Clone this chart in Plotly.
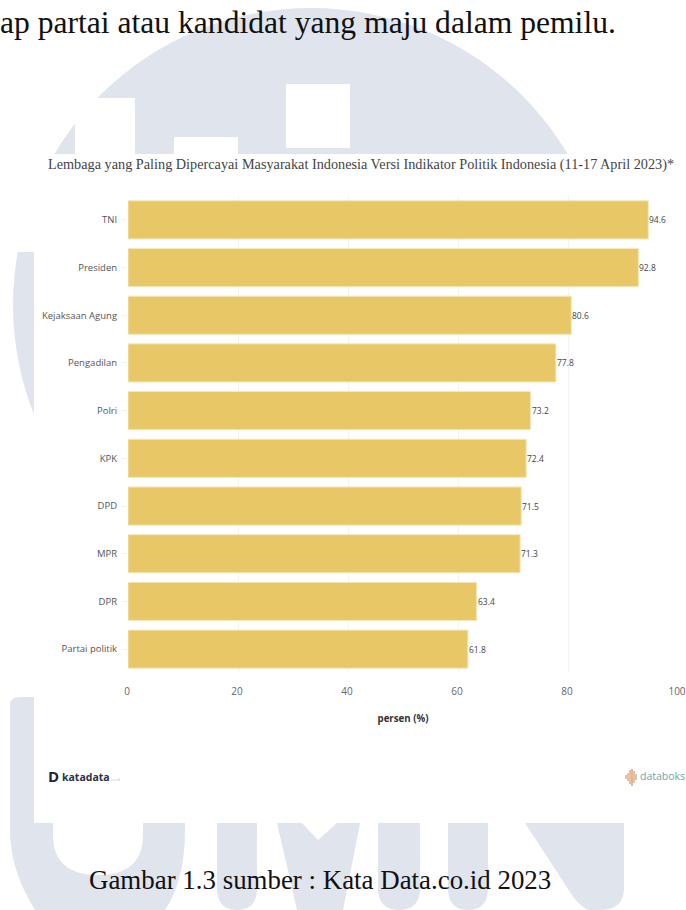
import plotly.graph_objects as go

# Survey results, percent of respondents who trust each institution
institutions = ["TNI", "Presiden", "Kejaksaan Agung", "Pengadilan", "Polri",
                "KPK", "DPD", "MPR", "DPR", "Partai politik"]
trust_percent = [94.6, 92.8, 80.6, 77.8, 73.2, 72.4, 71.5, 71.3, 63.4, 61.8]
x_ticks = [0, 20, 40, 60, 80, 100]

TITLE = ("Lembaga yang Paling Dipercayai Masyarakat Indonesia Versi "
         "Indikator Politik Indonesia (11-17 April 2023)*")
BODY_LINE = "ap partai atau kandidat yang maju dalam pemilu."
CAPTION = "Gambar 1.3 sumber : Kata Data.co.id 2023"

WIDTH, HEIGHT = 686, 910
LEFT, RIGHT, TOP, BOTTOM = 128, 8, 196, 237
PLOT_W = WIDTH - LEFT - RIGHT
PLOT_H = HEIGHT - TOP - BOTTOM
MARK = "#dfe4ed"
WHITE = "#ffffff"


def px(x):
    return (x - LEFT) / PLOT_W


def py(y):
    return 1 - (y - TOP) / PLOT_H


def path(*parts):
    """Build an SVG path in paper units from (command, x, y, ...) page-pixel tuples."""
    out = []
    for part in parts:
        cmd, nums = part[0], part[1:]
        pairs = [f"{px(nums[i]):.5f},{py(nums[i + 1]):.5f}" for i in range(0, len(nums), 2)]
        out.append(cmd + " " + " ".join(pairs))
    return " ".join(out) + " Z"


def fill_shape(d, color=MARK):
    return dict(type="path", path=d, xref="paper", yref="paper", layer="below",
                fillcolor=color, line=dict(width=0))


def box(x0, y0, x1, y1, color=WHITE):
    return dict(type="rect", xref="paper", yref="paper", layer="below",
                x0=px(x0), x1=px(x1), y0=py(y0), y1=py(y1),
                fillcolor=color, line=dict(width=0))


def stem(x0, x1):
    mid = (x0 + x1) / 2
    return fill_shape(path(("M", x0, 800), ("L", x0, 888), ("Q", x0, 910, mid, 910),
                           ("Q", x1, 910, x1, 888), ("L", x1, 800)))


# Watermark logo behind the page content
shapes = [
    dict(type="circle", xref="paper", yref="paper", layer="below",
         x0=px(13), x1=px(609), y0=py(8), y1=py(602),
         fillcolor=MARK, line=dict(width=0)),
    fill_shape(path(("M", 10, 705), ("Q", 10, 697, 20, 697), ("L", 53, 697), ("L", 53, 835),
                    ("Q", 53, 875, 98, 875), ("Q", 143, 875, 143, 835), ("L", 143, 697),
                    ("L", 185, 697), ("L", 185, 830), ("Q", 185, 880, 165, 910),
                    ("L", 35, 910), ("Q", 10, 870, 10, 830))),
    stem(217, 257),
    fill_shape(path(("M", 277, 800), ("L", 302, 800), ("L", 302, 823), ("L", 318, 840),
                    ("L", 337, 823), ("L", 360, 823), ("L", 343, 910), ("L", 297, 910),
                    ("L", 277, 823))),
    stem(378, 420),
    stem(448, 488),
    fill_shape(path(("M", 525, 823), ("L", 624, 823), ("L", 624, 888), ("Q", 624, 910, 600, 910),
                    ("L", 588, 910), ("Q", 578, 905, 570, 892))),
    box(0, 154, 34, 252),
    box(34, 154, 686, 823),
    box(75, 98, 135, 154),
    box(174, 137, 238, 154),
    box(286, 84, 350, 148),
]

# Small pulse icon beside the databoks wordmark
pulse = [(626, 775, 779, "#d9975f"), (628, 773, 781, "#d9975f"), (630, 770, 784, "#d9975f"),
         (632, 769, 786, "#cf8450"), (634, 771, 783, "#d9975f"), (636, 774, 780, "#7fb0ae")]
for x, y0, y1, c in pulse:
    shapes.append(dict(type="line", xref="paper", yref="paper", layer="above",
                       x0=px(x), x1=px(x), y0=py(y0), y1=py(y1),
                       line=dict(color=c, width=1.2)))


def page_text(x, y, text, size, color, family, anchor="left", bold=False):
    return dict(xref="paper", yref="paper", x=px(x), y=py(y), text=f"<b>{text}</b>" if bold else text,
                showarrow=False, xanchor=anchor, yanchor="middle",
                font=dict(size=size, color=color, family=family))


SERIF = "Liberation Serif"
SANS = "Open Sans"
annotations = [
    page_text(-2, 22, BODY_LINE, 31.6, "#111111", SERIF),
    page_text(87, 880, CAPTION, 26.9, "#111111", SERIF),
    page_text(46, 776, "D", 15, "#1c2536", SANS, bold=True),
    page_text(60, 777, "katadata", 10.5, "#2a3346", SANS, bold=True),
    page_text(108, 779, ".co.id", 4, "#b5b8c0", SANS),
    page_text(638, 776, "databoks", 10.5, "#6ea5ab", SANS),
]

# Value labels sit just past the end of each bar
for name, value in zip(institutions, trust_percent):
    annotations.append(dict(x=value, y=name, xref="x", yref="y", text=f"{value:.1f}",
                            showarrow=False, xanchor="left", xshift=-1,
                            font=dict(size=8.5, color="#444444", family=SANS)))

fig = go.Figure(go.Bar(
    x=trust_percent,
    y=institutions,
    orientation="h",
    marker=dict(color="#e8c766", line=dict(color="#f5e8bd", width=1)),
))

fig.update_layout(
    width=WIDTH,
    height=HEIGHT,
    margin=dict(l=LEFT, r=RIGHT, t=TOP, b=BOTTOM, autoexpand=False),
    paper_bgcolor=WHITE,
    plot_bgcolor="rgba(0,0,0,0)",
    showlegend=False,
    bargap=0.2,
    title=dict(text=TITLE, x=48 / WIDTH, xanchor="left", xref="container",
               y=1 - 164 / HEIGHT, yanchor="middle",
               font=dict(family=SERIF, size=14.25, color="#444444")),
    shapes=shapes,
    annotations=annotations,
    xaxis=dict(range=[0, 100], tickvals=x_ticks, showgrid=True, gridcolor="#f3f3f3",
               zeroline=False, ticks="", showline=False,
               ticklabeloverflow="allow", ticklabelstandoff=11, ticklabelshift=-1,
               tickfont=dict(size=10, color="#666666", family=SANS),
               title=dict(text="<b>persen (%)</b>", standoff=18,
                          font=dict(size=9.7, color="#333333", family=SANS))),
    yaxis=dict(autorange="reversed", showgrid=False, zeroline=False, showline=False,
               ticks="outside", ticklen=5, tickcolor="#eeeeee", ticklabelstandoff=3,
               tickfont=dict(size=9.5, color="#555555", family=SANS)),
)

fig.write_html("out.html", config=dict(displayModeBar=False))
